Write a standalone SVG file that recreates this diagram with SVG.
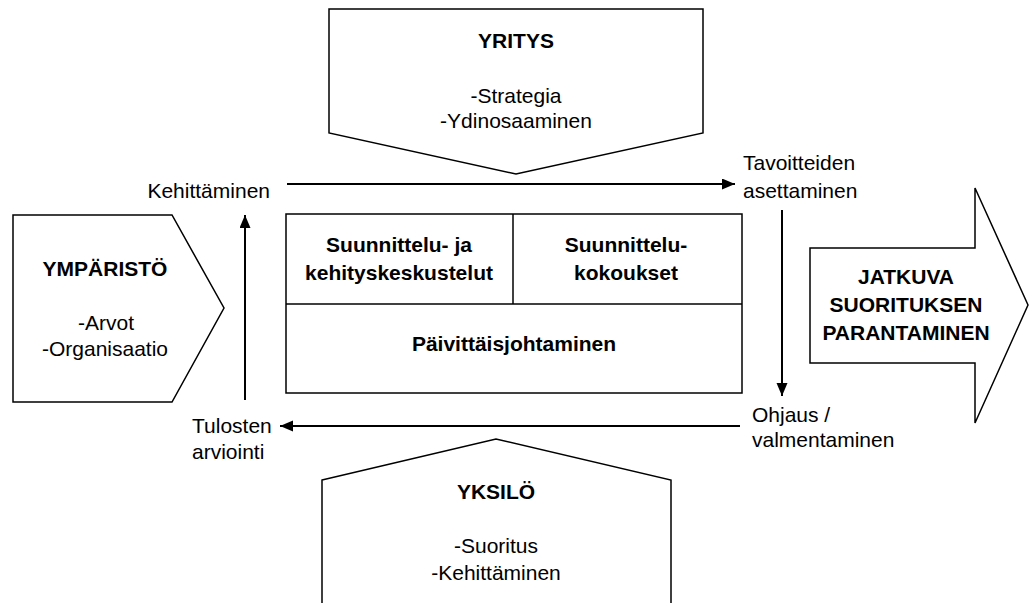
<svg xmlns="http://www.w3.org/2000/svg" width="1030" height="603" viewBox="0 0 1030 603">
<style>
  .shape { fill: #ffffff; stroke: #000000; stroke-width: 1.5; stroke-linejoin: miter; }
  .t { font-family: "Liberation Sans", Arial, sans-serif; font-size: 21px; fill: #000000; }
  .b { font-weight: bold; }
  .c { text-anchor: middle; }
  .e { text-anchor: end; }
  .conn { stroke: #000000; stroke-width: 2; fill: none; }
</style>
<defs>
  <marker id="ah" markerUnits="userSpaceOnUse" markerWidth="14" markerHeight="12" refX="13" refY="5.5" orient="auto">
    <path d="M0,0 L13,5.5 L0,11 z" fill="#000000"/>
  </marker>
</defs>
<rect x="0" y="0" width="1030" height="603" fill="#ffffff"/>

<g id="yritys">
  <polygon class="shape" points="329,9 703,9 703,133 516,174 329,133"/>
  <text class="t b c" x="516" y="48">YRITYS</text>
  <text class="t c" x="516" y="103">-Strategia</text>
  <text class="t c" x="516" y="128">-Ydinosaaminen</text>
</g>

<g id="ymparisto">
  <polygon class="shape" points="13,215 172,215 224,308 172,402 13,402"/>
  <text class="t b c" x="105" y="276">YMPÄRISTÖ</text>
  <text class="t c" x="106" y="330">-Arvot</text>
  <text class="t c" x="105" y="356">-Organisaatio</text>
</g>

<g id="jatkuva">
  <polygon class="shape" points="810,248 975,248 975,188 1028,305 975,423 975,363 810,363"/>
  <text class="t b c" x="906" y="284">JATKUVA</text>
  <text class="t b c" x="906" y="312">SUORITUKSEN</text>
  <text class="t b c" x="906" y="340">PARANTAMINEN</text>
</g>

<g id="yksilo">
  <polygon class="shape" points="322,480 496,439 671,480 671,610 322,610"/>
  <text class="t b c" x="496" y="499">YKSILÖ</text>
  <text class="t c" x="496" y="553">-Suoritus</text>
  <text class="t c" x="496" y="580">-Kehittäminen</text>
</g>

<g id="johtaminen">
  <rect class="shape" x="286" y="214" width="456" height="179"/>
  <line class="shape" x1="286" y1="304" x2="742" y2="304"/>
  <line class="shape" x1="513" y1="214" x2="513" y2="304"/>
  <text class="t b c" x="399" y="252">Suunnittelu- ja</text>
  <text class="t b c" x="399" y="280">kehityskeskustelut</text>
  <text class="t b c" x="626" y="252">Suunnittelu-</text>
  <text class="t b c" x="626" y="280">kokoukset</text>
  <text class="t b c" x="514" y="351">Päivittäisjohtaminen</text>
</g>

<g id="kehittaminen">
  <text class="t e" x="270" y="198">Kehittäminen</text>
</g>
<g id="tavoitteiden">
  <text class="t" x="743" y="170">Tavoitteiden</text>
  <text class="t" x="743" y="198">asettaminen</text>
</g>
<g id="ohjaus">
  <text class="t" x="752" y="422">Ohjaus /</text>
  <text class="t" x="752" y="447">valmentaminen</text>
</g>
<g id="tulosten">
  <text class="t" x="192" y="433">Tulosten</text>
  <text class="t" x="192" y="459">arviointi</text>
</g>

<g id="connectors">
  <line class="conn" x1="287" y1="184" x2="735" y2="184" marker-end="url(#ah)"/>
  <line class="conn" x1="782" y1="210" x2="782" y2="396" marker-end="url(#ah)"/>
  <line class="conn" x1="740" y1="426" x2="280" y2="426" marker-end="url(#ah)"/>
  <line class="conn" x1="245" y1="400" x2="245" y2="215" marker-end="url(#ah)"/>
</g>
</svg>
